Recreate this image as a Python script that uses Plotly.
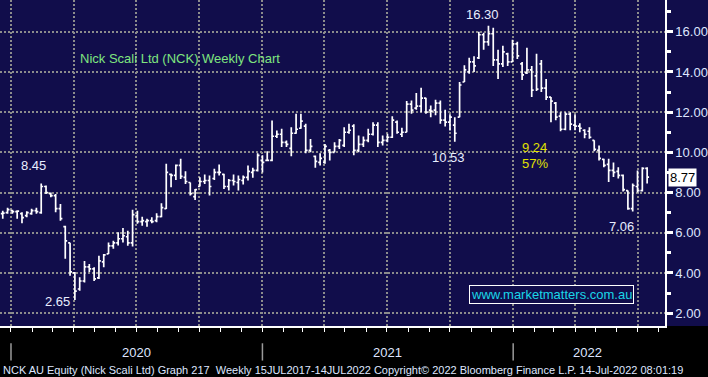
import pandas as pd
import plotly.graph_objects as go

# Weekly bars (week-ending Fridays)
dates = pd.date_range("2019-12-20", periods=135, freq="7D")

open_ = [6.95, 7.00, 7.10, 7.05, 6.95, 6.85, 6.95, 7.10, 7.00, 8.30,
         7.95, 7.85, 7.20, 6.30, 5.50, 4.00, 3.20, 3.60, 4.30, 4.20,
         3.75, 4.55, 4.95, 5.35, 5.50, 5.70, 5.80, 5.50, 6.85, 6.55,
         6.55, 6.60, 6.60, 6.80, 7.20, 8.90, 8.85, 9.35, 8.75, 8.50,
         7.80, 8.30, 8.55, 8.60, 8.70, 9.00, 8.90, 8.30, 8.60, 8.50,
         8.60, 8.75, 9.00, 9.10, 9.60, 9.60, 9.60, 10.80, 10.90, 10.50,
         10.20, 10.95, 11.20, 11.30, 10.10, 9.80, 9.50, 9.50, 10.10, 10.00,
         10.30, 10.35, 11.00, 11.30, 10.10, 10.40, 10.60, 10.90, 11.35, 10.50,
         10.60, 10.75, 11.50, 10.90, 11.00, 12.40, 12.20, 12.30, 12.70, 12.10,
         12.10, 12.45, 11.60, 11.50, 11.35, 11.75, 13.50, 14.00, 14.50, 14.70,
         15.85, 15.50, 15.90, 14.60, 14.40, 14.90, 14.50, 15.40, 14.40, 13.95,
         14.10, 13.80, 14.40, 13.20, 12.75, 12.45, 11.80, 11.15, 11.90, 11.35,
         11.30, 11.10, 11.05, 10.60, 10.10, 9.65, 9.40, 9.10, 9.05, 8.85,
         8.10, 7.20, 8.30, 8.10, 9.20]
high = [7.10, 7.24, 7.15, 7.12, 7.02, 7.07, 7.19, 7.24, 8.45, 8.35,
        8.00, 7.93, 7.43, 6.35, 5.50, 4.05, 3.78, 4.60, 4.45, 4.28,
        4.86, 4.94, 5.52, 5.60, 6.02, 6.24, 6.10, 7.15, 7.10, 6.80,
        6.69, 6.77, 6.97, 7.47, 9.43, 8.95, 9.39, 9.68, 9.06, 8.50,
        8.18, 8.76, 8.90, 8.85, 9.18, 9.39, 8.93, 8.68, 8.90, 8.85,
        8.85, 9.34, 9.23, 9.96, 9.85, 10.06, 11.59, 11.09, 11.17, 10.59,
        11.25, 11.92, 11.92, 11.42, 10.67, 9.84, 9.96, 10.42, 10.17, 10.50,
        10.67, 11.25, 11.42, 11.40, 10.84, 10.79, 11.17, 11.50, 11.50, 10.84,
        10.92, 11.79, 11.59, 11.22, 12.55, 12.58, 12.95, 13.21, 12.72, 12.33,
        12.62, 12.58, 12.12, 11.89, 11.75, 13.50, 14.33, 14.71, 14.78, 16.00,
        15.95, 16.30, 16.20, 15.10, 15.30, 14.95, 15.60, 15.50, 14.50, 15.20,
        14.30, 14.90, 14.60, 13.65, 12.75, 12.50, 12.00, 12.00, 12.00, 11.90,
        11.45, 11.15, 11.25, 10.60, 10.34, 9.68, 9.68, 9.50, 9.26, 8.90,
        8.10, 8.45, 9.10, 9.26, 9.26]
low = [6.70, 6.94, 6.94, 6.70, 6.47, 6.77, 6.89, 6.94, 6.95, 7.93,
       7.77, 7.02, 6.60, 4.70, 3.86, 2.65, 3.12, 3.53, 4.05, 3.60,
       3.70, 4.28, 4.94, 5.20, 5.36, 5.52, 5.35, 5.31, 6.45, 6.35,
       6.30, 6.47, 6.52, 6.77, 7.18, 8.26, 8.63, 8.68, 8.43, 7.85,
       7.63, 8.30, 8.43, 7.85, 8.63, 8.85, 8.18, 8.10, 8.35, 8.10,
       8.40, 8.60, 8.73, 9.05, 9.00, 9.56, 9.56, 10.72, 10.26, 10.26,
       9.80, 10.92, 11.17, 9.96, 10.00, 9.23, 9.34, 9.43, 9.59, 10.00,
       10.17, 10.26, 10.92, 9.85, 10.00, 10.26, 10.50, 10.84, 10.26, 10.34,
       10.50, 10.72, 10.92, 10.76, 11.00, 11.92, 12.12, 12.00, 11.92, 11.75,
       11.84, 11.42, 11.29, 11.09, 10.53, 11.75, 13.50, 13.91, 14.00, 14.65,
       15.10, 15.30, 14.30, 13.65, 14.25, 14.30, 14.50, 14.65, 13.60, 13.90,
       12.75, 13.05, 13.00, 12.60, 11.50, 11.60, 11.05, 11.10, 11.10, 11.10,
       11.00, 10.70, 10.68, 10.05, 9.60, 9.26, 8.52, 8.77, 8.70, 8.05,
       7.15, 7.06, 8.00, 8.05, 8.45]
close = [6.98, 7.15, 7.05, 7.08, 6.75, 7.00, 7.10, 7.05, 8.30, 8.00,
         7.85, 7.20, 6.70, 5.60, 4.05, 3.10, 3.60, 4.30, 4.20, 3.70,
         4.60, 4.90, 5.35, 5.50, 5.70, 5.85, 5.50, 6.90, 6.55, 6.60,
         6.60, 6.55, 6.80, 7.25, 9.00, 8.85, 9.35, 8.80, 8.55, 7.95,
         8.15, 8.55, 8.60, 8.30, 9.00, 9.00, 8.30, 8.60, 8.55, 8.65,
         8.75, 9.05, 9.10, 9.85, 9.50, 9.60, 10.80, 10.90, 10.50, 10.40,
         10.95, 11.15, 11.55, 10.10, 10.30, 9.55, 9.70, 10.30, 10.00, 10.30,
         10.60, 11.00, 11.10, 10.10, 10.40, 10.60, 10.90, 11.35, 10.50, 10.60,
         10.75, 11.60, 11.00, 11.00, 12.40, 12.10, 12.30, 12.70, 12.00, 12.05,
         12.45, 11.60, 11.50, 11.75, 10.95, 13.35, 14.10, 14.50, 14.30, 15.85,
         15.50, 15.90, 14.60, 14.40, 15.00, 14.50, 15.40, 14.80, 13.85, 14.10,
         13.10, 13.15, 13.20, 12.75, 12.55, 11.75, 11.15, 11.90, 11.40, 11.30,
         11.20, 10.90, 10.75, 10.15, 9.70, 9.35, 9.10, 9.00, 8.85, 8.15,
         7.20, 8.35, 8.10, 9.20, 8.77]

price_ticks = [2, 4, 6, 8, 10, 12, 14, 16]
price_minor = [3, 5, 7, 9, 11, 13, 15, 17]
quarter_grid = ["2020-01-01", "2020-04-01", "2020-07-01", "2020-10-01",
                "2021-01-01", "2021-04-01", "2021-07-01", "2021-10-01",
                "2022-01-01", "2022-04-01", "2022-07-01"]
year_starts = ["2020-01-01", "2021-01-01", "2022-01-01"]
year_labels = ["2020", "2021", "2022"]
year_label_pos = [0.2053, 0.5820, 0.8842]
last_price = 8.77

NAVY = "#110d4b"
GRID = "#8c8c8c"
LABEL = "#dfe6ff"
FONT = "Liberation Sans, Arial, sans-serif"

fig = go.Figure()
fig.add_trace(go.Ohlc(
    x=dates, open=open_, high=high, low=low, close=close,
    increasing=dict(line=dict(color="white", width=1.7)),
    decreasing=dict(line=dict(color="white", width=1.7)),
    tickwidth=0.4, hoverinfo="skip", showlegend=False,
))

fig.update_layout(
    width=708, height=377,
    margin=dict(l=0, r=43, t=0, b=51),
    paper_bgcolor=NAVY, plot_bgcolor=NAVY,
    font=dict(family=FONT, color=LABEL, size=13),
    showlegend=False,
    xaxis=dict(
        type="date", range=["2019-12-16", "2022-08-10"],
        rangeslider=dict(visible=False),
        tickvals=quarter_grid, showticklabels=False,
        ticks="outside", ticklen=4, tickcolor="white", tickwidth=1,
        showgrid=True, gridcolor=GRID, gridwidth=2, griddash="2px,2px",
        showline=True, linecolor="white", linewidth=1.5,
        minor=dict(dtick="M1", tick0="2020-01-01", ticks="outside",
                   ticklen=4, tickcolor="white", showgrid=False),
        zeroline=False, fixedrange=True,
    ),
    yaxis=dict(
        side="right", range=[1.36, 17.58],
        tickvals=price_ticks,
        ticktext=["%.2f" % v for v in price_ticks],
        ticks="outside", ticklen=6, tickwidth=3, tickcolor="white",
        tickfont=dict(size=13, color=LABEL),
        showgrid=True, gridcolor=GRID, gridwidth=2, griddash="2px,2px",
        showline=True, linecolor="white", linewidth=1.5,
        minor=dict(tickvals=price_minor, ticks="outside", ticklen=4,
                   tickcolor="white", showgrid=False),
        zeroline=False, fixedrange=True,
    ),
)

# black band under the plot
fig.add_shape(type="rect", xref="paper", yref="paper", x0=-0.02, x1=1.1,
              y0=-0.25, y1=0, fillcolor="black", line=dict(width=0), layer="below")

for d in year_starts:
    fig.add_shape(type="line", xref="x", yref="paper", x0=d, x1=d,
                  y0=-0.053, y1=-0.106, line=dict(color="#9a9a9a", width=1.5))

for lbl, px in zip(year_labels, year_label_pos):
    fig.add_annotation(text=lbl, xref="paper", yref="paper", x=px, y=-0.080,
                       xanchor="center", yanchor="middle",
                       showarrow=False, font=dict(size=13, color=LABEL))

fig.add_annotation(
    text="NCK AU Equity (Nick Scali Ltd) Graph 217  Weekly 15JUL2017-14JUL2022 "
         "Copyright© 2022 Bloomberg Finance L.P. 14-Jul-2022 08:01:19",
    xref="paper", yref="paper", x=0.002, y=-0.134, xanchor="left", yanchor="middle",
    showarrow=False, font=dict(size=11, color=LABEL))

def txt(s, x, y, color="#e8eeff", size=13):
    fig.add_annotation(text=s, xref="paper", yref="paper", x=x, y=y,
                       xanchor="center", yanchor="middle",
                       showarrow=False, font=dict(size=size, color=color))

txt("Nick Scali Ltd (NCK) Weekly Chart", 0.2707, 0.822, color="#7fe57f")
txt("8.45", 0.0505, 0.493)
txt("2.65", 0.0865, 0.076)
txt("10.53", 0.674, 0.518)
txt("16.30", 0.725, 0.957)
txt("9.24", 0.8045, 0.549, color="#e0e000")
txt("57%", 0.8045, 0.498, color="#e0e000")
txt("7.06", 0.934, 0.304)

fig.add_annotation(text="www.marketmatters.com.au", xref="paper", yref="paper",
                   x=0.830, y=0.0955, xanchor="center", yanchor="middle",
                   showarrow=False,
                   font=dict(size=13, color="#1ad6e8"),
                   bordercolor="white", borderwidth=1, borderpad=1, bgcolor=NAVY)

fig.add_annotation(text="8.77", xref="paper", yref="y", x=1.0, y=last_price,
                   xanchor="left", yanchor="middle", xshift=3, showarrow=False,
                   font=dict(size=13, color="black"), bgcolor="white",
                   borderpad=1)

fig.write_html("out.html",
               config={"displayModeBar": False},
               post_script="document.body.style.margin='0px';")
